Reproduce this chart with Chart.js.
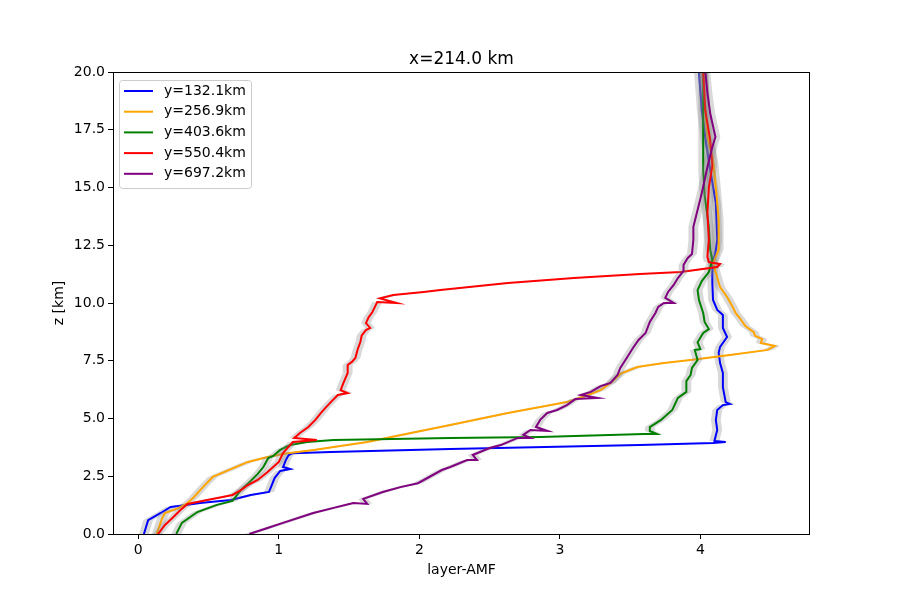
<!DOCTYPE html>
<html>
<head>
<meta charset="utf-8">
<script src="https://cdn.jsdelivr.net/npm/chart.js@4.4.0/dist/chart.umd.min.js"></script>
<style>
  html, body { margin: 0; padding: 0; background: #fff; }
  #wrap { width: 900px; height: 600px; }
</style>
</head>
<body>
<div id="wrap"><canvas id="chart" width="900" height="600"></canvas></div>
<script>
// Profile data: layer-AMF (x) against height z [km]
const seriesLabels = ['y=132.1km', 'y=256.9km', 'y=403.6km', 'y=550.4km', 'y=697.2km'];
const seriesColors = ['#0000ff', '#ffa500', '#008000', '#ff0000', '#800080'];

const zBlue = [0, 0.6, 0.91, 1.17, 1.26, 1.34, 1.47, 1.69, 1.82, 2.12, 2.42, 2.73, 2.81, 2.9, 3.2, 3.42, 3.5, 3.55, 3.68, 3.85,
  3.94, 3.98, 4.03, 4.5, 4.94, 5.37, 5.58, 5.63, 5.71, 6.36, 6.97, 7.4, 7.84, 8.1, 8.27, 8.53, 8.92, 9.48, 9.7, 10.13,
  10.87, 11.3, 11.73, 12.3, 12.73, 14.33, 15.76, 16.93, 18.35, 20];
const xBlue = [0.04, 0.07, 0.16, 0.23, 0.34, 0.44, 0.66, 0.8, 0.93, 0.95, 0.97, 1.01, 1.08, 1.03, 1.05, 1.07, 1.1, 1.37, 2.22, 3.57,
  4.09, 4.18, 4.1, 4.12, 4.11, 4.12, 4.16, 4.21, 4.18, 4.16, 4.16, 4.14, 4.13, 4.14, 4.16, 4.19, 4.16, 4.16, 4.12, 4.09,
  4.085, 4.085, 4.09, 4.11, 4.12, 4.11, 4.07, 4.04, 4.01, 3.99];

const zOrange = [0, 0.69, 0.91, 1.13, 1.34, 1.56, 2.03, 2.47, 2.86, 3.12, 3.33, 3.5, 3.64, 3.77, 3.98, 4.29, 4.72, 5.24, 5.5, 5.71,
  6.02, 6.23, 6.54, 6.93, 7.23, 7.4, 7.53, 7.75, 7.97, 8.14, 8.27, 8.44, 8.57, 8.74, 9.0, 9.35, 9.57, 9.83, 10.26, 10.69,
  11.3, 11.73, 12.3, 13.6, 15.0, 16.2, 17.2, 18.35, 20];
const xOrange = [0.13, 0.17, 0.19, 0.29, 0.35, 0.39, 0.46, 0.53, 0.68, 0.78, 0.92, 1.06, 1.25, 1.39, 1.63, 1.87, 2.22, 2.63, 2.86, 3.05,
  3.2, 3.29, 3.36, 3.43, 3.55, 3.74, 3.93, 4.21, 4.48, 4.53, 4.43, 4.44, 4.39, 4.38, 4.32, 4.28, 4.25, 4.23, 4.19, 4.14,
  4.11, 4.09, 4.13, 4.13, 4.11, 4.09, 4.05, 4.035, 4.02];

const zGreen = [0, 0.48, 0.95, 1.26, 1.43, 1.9, 2.3, 2.6, 2.9, 3.29, 3.38, 3.64, 3.85, 3.98, 4.07, 4.16, 4.2, 4.33, 4.33, 4.46,
  4.63, 4.94, 5.37, 5.89, 6.15, 6.62, 6.88, 7.19, 7.53, 7.97, 8.0, 8.3, 8.7, 8.87, 9.18, 9.57, 10.13, 10.56, 10.95, 11.34,
  11.86, 12.3, 13.3, 14.68, 15.76, 17.62, 20];
const xGreen = [0.27, 0.31, 0.42, 0.56, 0.67, 0.73, 0.8, 0.85, 0.89, 0.925, 0.96, 1.01, 1.08, 1.2, 1.39, 2.22, 2.86, 3.6, 3.69, 3.64,
  3.64, 3.72, 3.8, 3.84, 3.9, 3.9, 3.93, 3.94, 3.98, 3.96, 4.0, 3.98, 4.02, 4.06, 4.03, 4.02, 3.99, 3.98, 4.01, 4.06,
  4.085, 4.07, 4.06, 4.03, 4.02, 4.02, 4.02];

const zRed = [0, 0.39, 0.74, 1.04, 1.3, 1.47, 1.6, 1.69, 1.9, 2.12, 2.34, 2.68, 3.12, 3.5, 3.85, 3.98, 4.07, 4.16, 4.37, 4.63,
  4.94, 5.24, 5.45, 5.71, 6.02, 6.1, 6.23, 6.54, 6.97, 7.32, 7.45, 7.62, 7.97, 8.31, 8.6, 8.83, 8.92, 9.13, 9.39, 9.6,
  9.91, 10.04, 10.0, 10.2, 10.35, 10.48, 10.56, 10.87, 11.08, 11.26, 11.34, 11.56, 11.69, 11.77, 12.0, 12.73, 13.9, 15.0, 15.97, 17.06,
  18.35, 20];
const xRed = [0.14, 0.19, 0.25, 0.3, 0.35, 0.49, 0.6, 0.67, 0.73, 0.78, 0.85, 0.92, 1.0, 1.03, 1.08, 1.1, 1.27, 1.11, 1.15, 1.21,
  1.26, 1.3, 1.33, 1.37, 1.42, 1.49, 1.44, 1.46, 1.49, 1.49, 1.52, 1.545, 1.56, 1.58, 1.59, 1.62, 1.65, 1.62, 1.64, 1.665,
  1.69, 1.7, 1.84, 1.72, 1.815, 2.03, 2.15, 2.63, 3.1, 3.57, 3.86, 4.12, 4.14, 4.06, 4.05, 4.06, 4.05, 4.06, 4.085, 4.07,
  4.035, 4.02];

const zPurple = [0, 0.26, 0.48, 0.91, 1.13, 1.34, 1.3, 1.52, 1.82, 2.03, 2.2, 2.5, 2.77, 2.9, 3.2, 3.2, 3.42, 3.72, 3.85, 4.16,
  4.16, 4.29, 4.5, 4.46, 4.63, 4.94, 5.24, 5.37, 5.58, 5.84, 5.89, 6.02, 6.15, 6.4, 6.54, 6.88, 7.19, 7.66, 8.05, 8.4,
  8.7, 9.18, 9.57, 9.83, 10.0, 10.0, 10.22, 10.48, 10.78, 11.08, 11.39, 11.65, 11.95, 12.12, 12.73, 13.3, 14.03, 14.76, 15.89, 16.75,
  17.19, 18.2, 19.1, 20];
const xPurple = [0.79, 0.92, 1.03, 1.245, 1.39, 1.53, 1.63, 1.6, 1.74, 1.865, 1.99, 2.08, 2.16, 2.22, 2.34, 2.41, 2.38, 2.5, 2.58, 2.7,
  2.79, 2.74, 2.79, 2.91, 2.83, 2.86, 2.91, 2.98, 3.05, 3.11, 3.27, 3.15, 3.22, 3.29, 3.36, 3.41, 3.43, 3.48, 3.52, 3.56,
  3.61, 3.64, 3.68, 3.7, 3.74, 3.81, 3.75, 3.77, 3.81, 3.84, 3.88, 3.88, 3.91, 3.94, 3.95, 3.95, 3.98, 4.01, 4.05, 4.085,
  4.107, 4.07, 4.05, 4.035];

// uncertainty half-width of the grey band (layer-AMF units)
const bandHalfWidth = 0.035;

const xTicks = [0, 1, 2, 3, 4];
const yTicks = [0, 2.5, 5, 7.5, 10, 12.5, 15, 17.5, 20];

const FONT = 'DejaVu Sans';

const profiles = [
  [xBlue, zBlue], [xOrange, zOrange], [xGreen, zGreen], [xRed, zRed], [xPurple, zPurple]
];

// Build datasets: grey band then coloured line, per series
const datasets = [];
let drawIdx = 0;
profiles.forEach(([xs, zs], i) => {
  const pts = xs.map((x, k) => ({ x: x, y: zs[k] }));
  const lower = pts.map(p => ({ x: p.x - bandHalfWidth, y: p.y }));
  const upper = pts.slice().reverse().map(p => ({ x: p.x + bandHalfWidth, y: p.y }));
  datasets.push({
    label: seriesLabels[i] + ' band',
    data: lower.concat(upper),
    borderWidth: 0,
    borderColor: 'rgba(0,0,0,0)',
    backgroundColor: 'rgba(128,128,128,0.3)',
    pointRadius: 0,
    fill: 'shape',
    order: 100 - drawIdx++
  });
  datasets.push({
    label: seriesLabels[i],
    data: pts,
    borderColor: seriesColors[i],
    borderWidth: 2,
    pointRadius: 0,
    fill: false,
    order: 100 - drawIdx++
  });
});

// Frame, title, axis labels and legend inside the plot
const decorPlugin = {
  id: 'decor',
  afterDraw(chart) {
    const { ctx, chartArea: a } = chart;
    ctx.save();
    ctx.strokeStyle = '#000';
    ctx.lineWidth = 1;
    ctx.strokeRect(Math.round(a.left) + 0.5, Math.round(a.top) + 0.5,
      Math.round(a.right - a.left) - 1, Math.round(a.bottom - a.top));

    ctx.fillStyle = '#000';
    ctx.font = '17px "' + FONT + '"';
    ctx.textAlign = 'center';
    ctx.textBaseline = 'alphabetic';
    ctx.fillText('x=214.0 km', (a.left + a.right) / 2, 64);

    ctx.font = '14px "' + FONT + '"';
    ctx.fillText('layer-AMF', (a.left + a.right) / 2, 574);

    ctx.save();
    ctx.translate(59, (a.top + a.bottom) / 2);
    ctx.rotate(-Math.PI / 2);
    ctx.textBaseline = 'middle';
    ctx.fillText('z [km]', 0, 0);
    ctx.restore();

    // legend
    const bx = 119, by = 80, bw = 132, bh = 108;
    ctx.beginPath();
    ctx.roundRect(bx + 0.5, by + 0.5, bw, bh, 3);
    ctx.fillStyle = 'rgba(255,255,255,0.8)';
    ctx.fill();
    ctx.strokeStyle = '#cccccc';
    ctx.stroke();
    ctx.textAlign = 'left';
    ctx.textBaseline = 'middle';
    ctx.font = '14px "' + FONT + '"';
    seriesLabels.forEach((lab, i) => {
      const yy = 91 + i * 20.7;
      ctx.beginPath();
      ctx.moveTo(124, yy);
      ctx.lineTo(153, yy);
      ctx.strokeStyle = seriesColors[i];
      ctx.lineWidth = 2;
      ctx.stroke();
      ctx.fillStyle = '#000';
      ctx.fillText(lab, 164, yy);
    });
    ctx.restore();
  }
};

new Chart(document.getElementById('chart').getContext('2d'), {
  type: 'line',
  data: { datasets: datasets },
  options: {
    responsive: false,
    devicePixelRatio: 1,
    animation: false,
    layout: { padding: { top: 72, right: 90, left: 0, bottom: 0 } },
    plugins: {
      legend: { display: false },
      title: { display: false },
      tooltip: { enabled: false }
    },
    scales: {
      x: {
        type: 'linear',
        min: -0.18,
        max: 4.78,
        afterBuildTicks: s => { s.ticks = xTicks.map(v => ({ value: v })); },
        afterFit: s => { s.height = 66; },
        grid: { drawOnChartArea: false, drawTicks: true, tickLength: 5, color: '#000' },
        border: { display: false },
        ticks: { color: '#000', padding: 3, maxRotation: 0, font: { family: FONT, size: 14 },
          callback: v => String(v) }
      },
      y: {
        type: 'linear',
        min: 0,
        max: 20,
        afterBuildTicks: s => { s.ticks = yTicks.map(v => ({ value: v })); },
        afterFit: s => { s.width = 113; },
        grid: { drawOnChartArea: false, drawTicks: true, tickLength: 5, color: '#000' },
        border: { display: false },
        ticks: { color: '#000', padding: 3, font: { family: FONT, size: 14 },
          callback: v => v.toFixed(1) }
      }
    }
  },
  plugins: [decorPlugin]
});
</script>
</body>
</html>
